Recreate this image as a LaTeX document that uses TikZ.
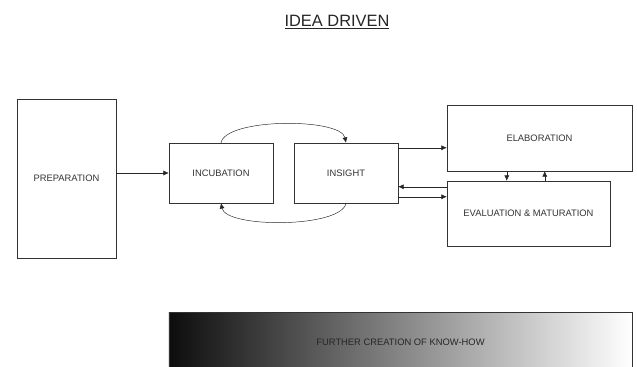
\documentclass[tikz,border=0pt]{standalone}
\usepackage{fontspec}
\setmainfont{Liberation Sans}
\usepackage{tikz}
\usetikzlibrary{arrows.meta,calc}
\tikzset{
stage/.style={draw=black!80,thin,inner sep=2pt,align=center,text=black!80,font=\fontsize{8}{10}\selectfont},
arrow/.style={-{Latex[length=1.6mm,width=1.5mm]},thin,draw=black!85},
shade/.style={draw=black!80,thin,left color=black!95,middle color=black!30,right color=white,text=black!85,font=\fontsize{8}{10}\selectfont}
}
\begin{document}
\begin{tikzpicture}[x=0.03cm,y=-0.03cm]
\useasboundingbox (0,0) rectangle (637,367);
\node[font=\fontsize{14}{16}\selectfont,text=black!85](title) at (337,22){\underline{IDEA DRIVEN}};
\node[stage,minimum width=2.97cm,minimum height=4.77cm](prep) at (66.5,178.5){PREPARATION};
\node[stage,minimum width=3.12cm,minimum height=1.8cm](incub) at (221,173){INCUBATION};
\node[stage,minimum width=3.12cm,minimum height=1.8cm](insight) at (346,173){INSIGHT};
\node[stage,minimum width=5.55cm,minimum height=1.98cm](elab) at (539.5,138){ELABORATION};
\node[stage,minimum width=4.89cm,minimum height=1.95cm](eval) at (528.5,213.5){EVALUATION \& MATURATION};
\node[shade,minimum width=13.89cm,minimum height=1.8cm](knowhow) at (400.5,342){FURTHER CREATION OF KNOW-HOW};
% connection points
\coordinate (ie) at ($(insight.north east)+(0,5)$);
\coordinate (ei) at ($(insight.north east)+(0,44)$);
\coordinate (iv) at ($(insight.north east)+(0,54)$);
\coordinate (ed) at ($(elab.south west)+(60,0)$);
\coordinate (eu) at ($(elab.south west)+(98,0)$);
\draw[arrow](prep.east |- incub.west)--(incub.west);
\draw[arrow](incub.north) .. controls +(5,-25) and +(-5,-25) .. (insight.north);
\draw[arrow](insight.south) .. controls +(-5,25) and +(5,25) .. (incub.south);
\draw[arrow](ie)--(ie -| elab.west);
\draw[arrow](ei -| eval.west)--(ei);
\draw[arrow](iv)--(iv -| eval.west);
\draw[arrow](ed)--(ed |- eval.north);
\draw[arrow](eu |- eval.north)--(eu);
\end{tikzpicture}
\end{document}
